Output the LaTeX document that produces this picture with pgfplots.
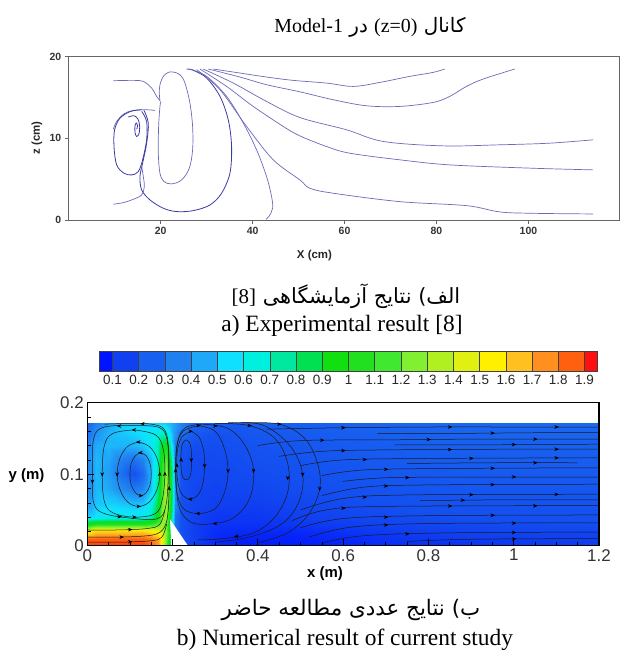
\documentclass[border=0pt]{standalone}
\usepackage{fontspec}
\usepackage{pgfplots}
\pgfplotsset{compat=1.18}
\usetikzlibrary{arrows.meta}
\TeXXeTstate=1
\setmainfont{Liberation Serif}
\newfontfamily\arialf{Liberation Sans}
\newfontfamily\farsi[Script=Arabic]{DejaVu Sans}
\definecolor{strm}{HTML}{6A6AB8}
\definecolor{strmd}{HTML}{3A3AA2}
\pgfplotsset{
  colormap={tec}{rgb255(5pt)=(0,20,255); rgb255(15pt)=(16,64,240); rgb255(25pt)=(24,96,240);
    rgb255(35pt)=(32,128,240); rgb255(45pt)=(32,168,248); rgb255(55pt)=(16,224,255);
    rgb255(65pt)=(0,240,224); rgb255(75pt)=(0,232,160); rgb255(85pt)=(0,224,80);
    rgb255(95pt)=(16,224,16); rgb255(105pt)=(32,224,32); rgb255(115pt)=(64,232,48);
    rgb255(125pt)=(128,240,48); rgb255(135pt)=(176,240,32); rgb255(145pt)=(224,240,16);
    rgb255(155pt)=(255,240,0); rgb255(165pt)=(255,192,32); rgb255(175pt)=(255,144,32);
    rgb255(185pt)=(255,96,16); rgb255(195pt)=(255,16,16)},
  ts/.style={draw=strm, line width=0.7bp, smooth, tension=0.55},
  tsd/.style={draw=strmd, line width=0.8bp, smooth, tension=0.55},
  fl/.style={draw=black!90, line width=0.5bp, smooth, tension=0.6},
}
\begin{document}
\begin{tikzpicture}
\path[use as bounding box] (0,0) rectangle (620bp,-657bp);

% ---- top: experimental streamlines
\begin{axis}[at={(68.7bp,-220bp)}, anchor=south west, scale only axis,
  width=550.3bp, height=163.3bp, xmin=0, xmax=119.7, ymin=0, ymax=20,
  axis line style={black!60, line width=0.7bp}, tick align=outside, tick pos=left,
  major tick length=4bp, every tick/.style={black!60, line width=0.7bp},
  xtick={20,40,60,80,100}, xticklabels={20,40,60,80,100},
  ytick={0,10,20}, yticklabels={0,10,20},
  ticklabel style={font=\arialf\bfseries\fontsize{10.5}{12}\selectfont, text=black!80}]
\addplot[ts] coordinates {(9.71,17.06)(14.06,17.10)(16.23,16.98)(18.04,16.16)(19.13,15.14)(19.85,14.61)};
\addplot[ts] coordinates {(19.85,14.61)(19.71,15.55)(19.85,16.57)(20.58,17.59)(21.66,18.08)(22.75,18.12)(24.2,17.80)(25.29,16.77)(26.37,14.32)(26.95,11.46)(26.95,8.59)(26.23,6.34)(24.56,4.91)(22.39,4.42)(20.72,4.71)(19.85,5.73)(19.49,8.18)(19.56,11.46)(19.85,13.91)(20.07,14.52)};
\addplot[ts] coordinates {(9.71,11.13)(10.43,12.07)(12.03,13.01)(14.06,13.42)(16.95,13.5)(18.77,13.42)};
\addplot[tsd] coordinates {(15.87,13.3)(16.95,12.07)(16.95,9.82)(16.08,7.37)(15.14,5.93)(13.69,5.52)(12.03,5.73)(10.43,6.75)(9.85,9.0)(9.99,11.05)(11.16,12.48)(13.48,13.30)(15.87,13.5)};
\addplot[tsd] coordinates {(14.78,11.13)(14.99,11.54)(14.71,11.87)(14.42,11.54)(14.42,10.72)(14.78,10.23)(15.29,10.56)(15.43,11.54)(15.07,12.36)(14.2,12.77)(12.97,12.6)};
\addplot[tsd] coordinates {(16.37,13.42)(17.32,11.87)(16.95,9.41)(16.08,6.96)(15.5,5.32)(15.87,3.69)(17.68,2.46)(20.58,1.44)(23.48,1.03)(27.1,1.15)(30.72,1.84)(33.26,3.28)(35.07,5.73)(35.43,9.0)(34.71,12.27)(32.9,15.14)(30.0,17.39)(27.1,18.33)(25.65,18.49)};
\addplot[ts] coordinates {(9.71,1.93)(11.88,2.13)(14.06,2.54)(15.87,3.07)(16.45,4.09)(16.23,5.32)(15.87,6.55)};
\addplot[ts] coordinates {(26.37,18.49)(30.0,17.59)(34.35,15.14)(37.97,11.87)(40.87,8.59)(43.04,5.32)(44.13,2.87)(44.35,1.44)(43.62,0.49)(42.9,0.09)};
\addplot[ts] coordinates {(31.45,18.49)(37.24,18.0)(43.04,17.51)(48.84,17.10)(56.08,16.77)(61.87,16.36)(67.67,16.85)(74.19,17.59)(79.27,18.08)(81.8,18.49)};
\addplot[ts] coordinates {(30.36,18.49)(37.24,17.51)(43.04,16.57)(50.29,15.7)(57.53,14.73)(64.77,13.99)(72.02,13.91)(79.27,14.40)(82.89,15.14)(86.51,16.36)(90.14,17.26)(97.02,18.49)};
\addplot[ts] coordinates {(29.27,18.49)(35.8,16.77)(43.04,14.52)(50.29,12.55)(60.43,11.05)(68.4,9.62)(81.44,9.08)(93.76,9.21)(104.63,9.41)(114.05,9.82)};
\addplot[ts] coordinates {(28.55,18.49)(34.35,16.36)(40.14,13.91)(46.66,11.46)(50.29,10.3)(56.08,9.0)(61.15,8.18)(72.02,7.37)(82.89,6.75)(101.0,6.34)(114.05,6.14)};
\addplot[ts] coordinates {(27.83,18.41)(32.9,15.96)(38.69,11.46)(44.49,7.37)(50.29,4.91)(52.45,3.89)(57.53,3.28)(72.02,2.25)(86.51,1.76)(93.76,0.99)(101.0,0.82)(114.05,0.74)};
\end{axis}

% ---- colour bar
\begin{axis}[at={(99.3bp,-371.7bp)}, anchor=south west, scale only axis,
  width=498.4bp, height=20bp, view={0}{90}, xmin=0.05, xmax=1.95, ymin=0, ymax=1,
  colormap name=tec, point meta min=0.05, point meta max=1.95,
  axis on top, axis line style={black!75, line width=0.5bp},
  xmajorgrids, grid style={black!75, line width=0.5bp},
  xtick={0.1,0.2,0.3,0.4,0.5,0.6,0.7,0.8,0.9,1,1.1,1.2,1.3,1.4,1.5,1.6,1.7,1.8,1.9},
  xticklabels={0.1,0.2,0.3,0.4,0.5,0.6,0.7,0.8,0.9,1,1.1,1.2,1.3,1.4,1.5,1.6,1.7,1.8,1.9},
  ytick=\empty, ztick=\empty, major tick length=0pt, xtick pos=left,
  xticklabel style={font=\arialf\fontsize{13.5}{15}\selectfont, text=black!85}]
\addplot3[surf, shader=flat corner, mesh/cols=21] table[row sep=\\] {
x y z\\
0.05 0 0.05\\ 0.1 0 0.15\\ 0.2 0 0.25\\ 0.3 0 0.35\\ 0.4 0 0.45\\ 0.5 0 0.55\\ 0.6 0 0.65\\ 0.7 0 0.75\\ 0.8 0 0.85\\ 0.9 0 0.95\\ 1.0 0 1.05\\ 1.1 0 1.15\\ 1.2 0 1.25\\ 1.3 0 1.35\\ 1.4 0 1.45\\ 1.5 0 1.55\\ 1.6 0 1.65\\ 1.7 0 1.75\\ 1.8 0 1.85\\ 1.9 0 1.95\\ 1.95 0 1.95\\
0.05 1 0.05\\ 0.1 1 0.15\\ 0.2 1 0.25\\ 0.3 1 0.35\\ 0.4 1 0.45\\ 0.5 1 0.55\\ 0.6 1 0.65\\ 0.7 1 0.75\\ 0.8 1 0.85\\ 0.9 1 0.95\\ 1.0 1 1.05\\ 1.1 1 1.15\\ 1.2 1 1.25\\ 1.3 1 1.35\\ 1.4 1 1.45\\ 1.5 1 1.55\\ 1.6 1 1.65\\ 1.7 1 1.75\\ 1.8 1 1.85\\ 1.9 1 1.95\\ 1.95 1 1.95\\
};
\end{axis}

% ---- bottom: velocity magnitude field
\begin{axis}[at={(87.3bp,-545.7bp)}, anchor=south west, scale only axis,
  width=511.7bp, height=143bp, view={0}{90}, xmin=0, xmax=1.2, ymin=0, ymax=0.2,
  hide axis, colormap name=tec, point meta min=0.05, point meta max=1.95]
\addplot3[surf, shader=interp, mesh/cols=21] table[row sep=\\] {
x y z\\
0 0 1.9\\ 0.02 0 1.9\\ 0.05 0 1.9\\ 0.08 0 1.9\\ 0.11 0 1.9\\ 0.13 0 1.9\\ 0.15 0 1.85\\ 0.165 0 1.75\\ 0.175 0 1.5\\ 0.185 0 1.2\\ 0.195 0 0.8\\ 0.205 0 0.3\\ 0.22 0 0.2\\ 0.25 0 0.15\\ 0.3 0 0.1\\ 0.35 0 0.08\\ 0.4 0 0.07\\ 0.5 0 0.07\\ 0.7 0 0.1\\ 0.9 0 0.12\\ 1.2 0 0.14\\
0 0.01 1.85\\ 0.02 0.01 1.85\\ 0.05 0.01 1.85\\ 0.08 0.01 1.85\\ 0.11 0.01 1.85\\ 0.13 0.01 1.85\\ 0.15 0.01 1.8\\ 0.165 0.01 1.7\\ 0.175 0.01 1.5\\ 0.185 0.01 1.25\\ 0.195 0.01 0.9\\ 0.205 0.01 0.3\\ 0.22 0.01 0.2\\ 0.25 0.01 0.15\\ 0.3 0.01 0.1\\ 0.35 0.01 0.08\\ 0.4 0.01 0.08\\ 0.5 0.01 0.08\\ 0.7 0.01 0.12\\ 0.9 0.01 0.14\\ 1.2 0.01 0.15\\
0 0.02 1.5\\ 0.02 0.02 1.6\\ 0.05 0.02 1.6\\ 0.08 0.02 1.6\\ 0.11 0.02 1.6\\ 0.13 0.02 1.6\\ 0.15 0.02 1.55\\ 0.165 0.02 1.5\\ 0.175 0.02 1.4\\ 0.185 0.02 1.25\\ 0.195 0.02 0.9\\ 0.205 0.02 0.3\\ 0.22 0.02 0.2\\ 0.25 0.02 0.15\\ 0.3 0.02 0.11\\ 0.35 0.02 0.1\\ 0.4 0.02 0.1\\ 0.5 0.02 0.1\\ 0.7 0.02 0.14\\ 0.9 0.02 0.16\\ 1.2 0.02 0.17\\
0 0.03 0.95\\ 0.02 0.03 1.05\\ 0.05 0.03 1.05\\ 0.08 0.03 1.05\\ 0.11 0.03 1.05\\ 0.13 0.03 1.05\\ 0.15 0.03 1.1\\ 0.165 0.03 1.2\\ 0.175 0.03 1.3\\ 0.185 0.03 1.25\\ 0.195 0.03 0.9\\ 0.205 0.03 0.3\\ 0.22 0.03 0.2\\ 0.25 0.03 0.15\\ 0.3 0.03 0.12\\ 0.35 0.03 0.12\\ 0.4 0.03 0.12\\ 0.5 0.03 0.13\\ 0.7 0.03 0.16\\ 0.9 0.03 0.18\\ 1.2 0.03 0.19\\
0 0.04 0.52\\ 0.02 0.04 0.56\\ 0.05 0.04 0.6\\ 0.08 0.04 0.6\\ 0.11 0.04 0.6\\ 0.13 0.04 0.62\\ 0.15 0.04 0.72\\ 0.165 0.04 0.98\\ 0.175 0.04 1.3\\ 0.185 0.04 1.3\\ 0.195 0.04 0.95\\ 0.205 0.04 0.3\\ 0.22 0.04 0.2\\ 0.25 0.04 0.16\\ 0.3 0.04 0.13\\ 0.35 0.04 0.13\\ 0.4 0.04 0.13\\ 0.5 0.04 0.15\\ 0.7 0.04 0.18\\ 0.9 0.04 0.2\\ 1.2 0.04 0.2\\
0 0.06 0.4\\ 0.02 0.06 0.5\\ 0.05 0.06 0.52\\ 0.08 0.06 0.5\\ 0.11 0.06 0.48\\ 0.13 0.06 0.5\\ 0.15 0.06 0.62\\ 0.165 0.06 0.88\\ 0.175 0.06 1.2\\ 0.185 0.06 1.35\\ 0.195 0.06 1.05\\ 0.205 0.06 0.38\\ 0.22 0.06 0.2\\ 0.25 0.06 0.17\\ 0.3 0.06 0.15\\ 0.35 0.06 0.15\\ 0.4 0.06 0.15\\ 0.5 0.06 0.17\\ 0.7 0.06 0.2\\ 0.9 0.06 0.21\\ 1.2 0.06 0.21\\
0 0.08 0.36\\ 0.02 0.08 0.48\\ 0.05 0.08 0.45\\ 0.08 0.08 0.38\\ 0.11 0.08 0.33\\ 0.13 0.08 0.37\\ 0.15 0.08 0.5\\ 0.165 0.08 0.8\\ 0.175 0.08 1.15\\ 0.185 0.08 1.35\\ 0.195 0.08 1.05\\ 0.205 0.08 0.38\\ 0.22 0.08 0.2\\ 0.25 0.08 0.17\\ 0.3 0.08 0.16\\ 0.35 0.08 0.17\\ 0.4 0.08 0.17\\ 0.5 0.08 0.19\\ 0.7 0.08 0.21\\ 0.9 0.08 0.22\\ 1.2 0.08 0.22\\
0 0.1 0.36\\ 0.02 0.1 0.48\\ 0.05 0.1 0.42\\ 0.08 0.1 0.3\\ 0.11 0.1 0.2\\ 0.13 0.1 0.28\\ 0.15 0.1 0.48\\ 0.165 0.1 0.75\\ 0.175 0.1 1.1\\ 0.185 0.1 1.3\\ 0.195 0.1 1.0\\ 0.205 0.1 0.38\\ 0.22 0.1 0.2\\ 0.25 0.1 0.18\\ 0.3 0.1 0.17\\ 0.35 0.1 0.18\\ 0.4 0.1 0.19\\ 0.5 0.1 0.2\\ 0.7 0.1 0.22\\ 0.9 0.1 0.23\\ 1.2 0.1 0.23\\
0 0.12 0.36\\ 0.02 0.12 0.48\\ 0.05 0.12 0.44\\ 0.08 0.12 0.35\\ 0.11 0.12 0.3\\ 0.13 0.12 0.36\\ 0.15 0.12 0.48\\ 0.165 0.12 0.72\\ 0.175 0.12 1.05\\ 0.185 0.12 1.2\\ 0.195 0.12 0.9\\ 0.205 0.12 0.35\\ 0.22 0.12 0.2\\ 0.25 0.12 0.18\\ 0.3 0.12 0.18\\ 0.35 0.12 0.19\\ 0.4 0.12 0.2\\ 0.5 0.12 0.21\\ 0.7 0.12 0.23\\ 0.9 0.12 0.24\\ 1.2 0.12 0.24\\
0 0.14 0.34\\ 0.02 0.14 0.46\\ 0.05 0.14 0.48\\ 0.08 0.14 0.47\\ 0.11 0.14 0.47\\ 0.13 0.14 0.5\\ 0.15 0.14 0.58\\ 0.165 0.14 0.72\\ 0.175 0.14 0.92\\ 0.185 0.14 0.98\\ 0.195 0.14 0.75\\ 0.205 0.14 0.34\\ 0.22 0.14 0.22\\ 0.25 0.14 0.19\\ 0.3 0.14 0.19\\ 0.35 0.14 0.2\\ 0.4 0.14 0.21\\ 0.5 0.14 0.22\\ 0.7 0.14 0.24\\ 0.9 0.14 0.25\\ 1.2 0.14 0.25\\
0 0.155 0.3\\ 0.02 0.155 0.4\\ 0.05 0.155 0.48\\ 0.08 0.155 0.5\\ 0.11 0.155 0.52\\ 0.13 0.155 0.55\\ 0.15 0.155 0.6\\ 0.165 0.155 0.65\\ 0.175 0.155 0.72\\ 0.185 0.155 0.72\\ 0.195 0.155 0.58\\ 0.205 0.155 0.4\\ 0.22 0.155 0.28\\ 0.25 0.155 0.22\\ 0.3 0.155 0.2\\ 0.35 0.155 0.21\\ 0.4 0.155 0.22\\ 0.5 0.155 0.23\\ 0.7 0.155 0.25\\ 0.9 0.155 0.26\\ 1.2 0.155 0.26\\
0 0.165 0.28\\ 0.02 0.165 0.38\\ 0.05 0.165 0.46\\ 0.08 0.165 0.52\\ 0.11 0.165 0.55\\ 0.13 0.165 0.55\\ 0.15 0.165 0.56\\ 0.165 0.165 0.58\\ 0.175 0.165 0.6\\ 0.185 0.165 0.58\\ 0.195 0.165 0.5\\ 0.205 0.165 0.42\\ 0.22 0.165 0.35\\ 0.25 0.165 0.25\\ 0.3 0.165 0.22\\ 0.35 0.165 0.22\\ 0.4 0.165 0.23\\ 0.5 0.165 0.24\\ 0.7 0.165 0.26\\ 0.9 0.165 0.27\\ 1.2 0.165 0.27\\
0 0.172 0.25\\ 0.02 0.172 0.34\\ 0.05 0.172 0.44\\ 0.08 0.172 0.5\\ 0.11 0.172 0.5\\ 0.13 0.172 0.5\\ 0.15 0.172 0.5\\ 0.165 0.172 0.52\\ 0.175 0.172 0.52\\ 0.185 0.172 0.5\\ 0.195 0.172 0.48\\ 0.205 0.172 0.42\\ 0.22 0.172 0.35\\ 0.25 0.172 0.27\\ 0.3 0.172 0.23\\ 0.35 0.172 0.23\\ 0.4 0.172 0.24\\ 0.5 0.172 0.25\\ 0.7 0.172 0.27\\ 0.9 0.172 0.28\\ 1.2 0.172 0.28\\
};
\end{axis}

% ---- bottom: frame, obstacle and streamlines
\begin{axis}[at={(87.3bp,-545.7bp)}, anchor=south west, scale only axis,
  width=511.7bp, height=143bp, xmin=0, xmax=1.2, ymin=0, ymax=0.2, axis on top,
  axis line style={black, line width=1.2bp}, tick align=inside, tick pos=left,
  major tick length=7bp, minor tick length=3.5bp,
  every major tick/.style={black, line width=1.1bp}, every minor tick/.style={black, line width=0.6bp},
  xtick={0,0.2,0.4,0.6,0.8,1,1.2}, xticklabels={0,0.2,0.4,0.6,0.8,1,1.2},
  ytick={0,0.1,0.2}, yticklabels={0,0.1,0.2}, minor x tick num=3, minor y tick num=4,
  ticklabel style={font=\arialf\fontsize{17}{19}\selectfont, text=black!80}]
\addplot[fill=white, draw=none] coordinates {(0.194,0.037)(0.197,0)(0.236,0)} --cycle;
% left vortex
\addplot[fl] coordinates {(.125,.130)(.113,.126)(.103,.115)(.100,.100)(.103,.085)(.113,.074)(.125,.070)(.138,.074)(.147,.085)(.150,.100)(.147,.115)(.138,.126)(.125,.130)};
\addplot[fl] coordinates {(.120,.145)(.095,.139)(.077,.123)(.070,.100)(.077,.078)(.095,.061)(.120,.055)(.145,.061)(.163,.078)(.170,.100)(.163,.123)(.145,.139)(.120,.145)};
\addplot[fl] coordinates {(.110,.162)(.060,.157)(.040,.140)(.035,.100)(.040,.062)(.060,.046)(.110,.040)(.160,.045)(.176,.065)(.182,.100)(.178,.135)(.160,.155)(.110,.162)};
\addplot[fl] coordinates {(.11,.168)(.04,.166)(.015,.15)(.012,.10)(.015,.06)(.04,.045)(.11,.038)(.165,.038)(.184,.055)(.19,.10)(.188,.145)(.17,.165)(.11,.168)};
\addplot[fl] coordinates {(0,.012)(.06,.012)(.12,.013)(.16,.016)(.18,.025)(.189,.045)(.192,.09)(.19,.14)(.18,.163)(.15,.170)(.10,.171)(.04,.170)};
\addplot[fl] coordinates {(0,.005)(.08,.005)(.15,.007)(.175,.012)(.186,.03)};
\addplot[fl] coordinates {(0,.022)(.07,.022)(.14,.024)(.17,.03)(.182,.05)};
% right vortex
\addplot[fl] coordinates {(.232,.148)(.240,.144)(.244,.132)(.244,.108)(.240,.096)(.232,.092)(.224,.096)(.220,.108)(.220,.132)(.224,.144)(.232,.148)};
\addplot[fl] coordinates {(.242,.160)(.262,.152)(.273,.132)(.275,.1125)(.272,.09)(.262,.073)(.242,.065)(.222,.072)(.212,.09)(.210,.1125)(.212,.135)(.222,.152)(.242,.160)};
\addplot[fl] coordinates {(.26,.168)(.30,.16)(.322,.135)(.33,.105)(.322,.075)(.30,.052)(.26,.045)(.225,.052)(.21,.075)(.207,.105)(.21,.14)(.225,.16)(.26,.168)};
\addplot[fl] coordinates {(.27,.170)(.33,.164)(.37,.14)(.39,.105)(.38,.065)(.34,.038)(.28,.03)(.24,.034)(.215,.055)(.208,.1)(.212,.145)(.23,.165)(.27,.17)};
\addplot[fl] coordinates {(.30,.171)(.38,.168)(.44,.15)(.47,.115)(.47,.075)(.44,.04)(.39,.018)(.32,.01)(.26,.008)};
\addplot[fl] coordinates {(.33,.172)(.41,.169)(.475,.14)(.505,.10)(.495,.06)(.455,.03)(.38,.012)(.30,.005)};
\addplot[fl] coordinates {(.36,.172)(.45,.17)(.51,.15)(.54,.115)(.545,.08)(.52,.045)(.47,.018)(.40,.004)};
% outflow
\addplot[fl] coordinates {(0.42,0.163)(0.6,0.165)(0.8,0.166)(1.0,0.166)(1.2,0.166)};
\addplot[fl] coordinates {(0.68,0.157)(0.85,0.157)(1.05,0.158)(1.2,0.158)};
\addplot[fl] coordinates {(0.40,0.14)(0.5,0.147)(0.7,0.148)(0.9,0.149)(1.2,0.149)};
\addplot[fl] coordinates {(0.72,0.141)(0.9,0.141)(1.2,0.142)};
\addplot[fl] coordinates {(0.45,0.125)(0.55,0.132)(0.7,0.134)(1.0,0.135)(1.2,0.135)};
\addplot[fl] coordinates {(0.50,0.112)(0.6,0.12)(0.8,0.122)(1.2,0.123)};
\addplot[fl] coordinates {(0.75,0.115)(0.95,0.116)(1.15,0.116)};
\addplot[fl] coordinates {(0.55,0.098)(0.65,0.106)(0.85,0.108)(1.2,0.109)};
\addplot[fl] coordinates {(0.6,0.09)(0.7,0.095)(0.9,0.096)(1.2,0.096)};
\addplot[fl] coordinates {(0.55,0.07)(0.65,0.082)(0.8,0.085)(1.2,0.086)};
\addplot[fl] coordinates {(0.5,0.05)(0.6,0.066)(0.75,0.071)(1.2,0.072)};
\addplot[fl] coordinates {(0.48,0.035)(0.56,0.05)(0.7,0.055)(1.2,0.056)};
\addplot[fl] coordinates {(0.78,0.063)(0.95,0.064)(1.2,0.064)};
\addplot[fl] coordinates {(0.5,0.025)(0.6,0.038)(0.8,0.042)(1.2,0.043)};
\addplot[fl] coordinates {(0.52,0.012)(0.62,0.026)(0.8,0.031)(1.2,0.032)};
\addplot[fl] coordinates {(0.55,0.004)(0.65,0.014)(0.85,0.018)(1.2,0.019)};
\addplot[fl] coordinates {(0.75,0.006)(0.9,0.009)(1.2,0.01)};
% direction arrows along the streamlines
\addplot[quiver={u=\thisrow{u}, v=\thisrow{v}}, draw=black, line width=0.5bp,
  -{Stealth[length=4.5bp,width=3.6bp]}] table {
x y u v
0.125 0.130 -0.006 0
0.125 0.070 0.006 0
0.12 0.145 -0.006 0
0.070 0.100 0 -0.0036
0.12 0.055 0.006 0
0.170 0.100 0 0.0036
0.11 0.162 -0.006 0
0.035 0.100 0 -0.0036
0.11 0.040 0.006 0
0.182 0.100 0 0.0036
0.075 0.1675 -0.006 0
0.012 0.090 0 -0.0036
0.075 0.0405 0.006 0
0.08 0.012 0.006 0
0.192 0.080 0 0.0036
0.13 0.1705 -0.006 0
0.10 0.0055 0.006 0
0.10 0.0225 0.006 0
0.244 0.120 0 -0.0036
0.220 0.120 0 0.0036
0.242 0.160 0.006 0
0.275 0.112 0 -0.0036
0.242 0.065 -0.006 0
0.210 0.112 0 0.0036
0.26 0.168 0.006 0
0.33 0.105 0 -0.0036
0.26 0.045 -0.006 0
0.207 0.105 0 0.0036
0.39 0.105 0 -0.0036
0.30 0.031 -0.006 0
0.30 0.1675 0.006 0
0.47 0.095 0 -0.0036
0.38 0.168 0.006 0
0.35 0.013 -0.006 0
0.505 0.100 0 -0.0036
0.545 0.080 0 -0.0036
0.45 0.170 0.006 0
0.6 0.165 0.006 0
0.85 0.166 0.006 0
1.1 0.166 0.006 0
0.95 0.1575 0.006 0
0.55 0.1475 0.006 0
0.8 0.1485 0.006 0
1.05 0.149 0.006 0
1.0 0.1415 0.006 0
0.6 0.133 0.006 0
0.85 0.1345 0.006 0
1.1 0.135 0.006 0
0.65 0.1205 0.006 0
0.9 0.1222 0.006 0
1.1 0.1228 0.006 0
1.05 0.116 0.006 0
0.7 0.1068 0.006 0
0.95 0.1083 0.006 0
0.75 0.0953 0.006 0
1.0 0.0962 0.006 0
0.7 0.0835 0.006 0
0.95 0.0855 0.006 0
0.65 0.068 0.006 0
0.9 0.0713 0.006 0
1.1 0.0718 0.006 0
0.88 0.0637 0.006 0
0.6 0.0525 0.006 0
0.85 0.0555 0.006 0
1.05 0.0558 0.006 0
0.7 0.040 0.006 0
0.95 0.0425 0.006 0
0.7 0.029 0.006 0
1.0 0.0315 0.006 0
0.75 0.0165 0.006 0
1.0 0.0185 0.006 0
1.0 0.0095 0.006 0
};
\end{axis}

% ---- texts
\node[font=\farsi\fontsize{20}{23}\selectfont] at (370bp,-27bp) {\beginR کانال \beginL{\rmfamily(z=0)}\endL{} در \beginL{\rmfamily Model-1}\endL\endR};
\node[font=\arialf\bfseries\fontsize{11.5}{13}\selectfont, text=black!85] at (314.5bp,-256bp) {X (cm)};
\node[rotate=90, font=\arialf\bfseries\fontsize{11.5}{13}\selectfont, text=black!85] at (37bp,-138bp) {z (cm)};
\node[font=\farsi\fontsize{21}{24}\selectfont] at (346bp,-296bp) {\beginR الف) نتایج آزمایشگاهی \beginL{\rmfamily [8]}\endL\endR};
\node[font=\rmfamily\fontsize{23.5}{27}\selectfont] at (342bp,-326bp) {a) Experimental result [8]};
\node[font=\arialf\bfseries\fontsize{15}{17}\selectfont] at (325bp,-574bp) {x (m)};
\node[font=\arialf\bfseries\fontsize{15}{17}\selectfont] at (26.5bp,-475.7bp) {y (m)};
\node[font=\farsi\fontsize{21.5}{24}\selectfont] at (351bp,-610bp) {\beginR ب) نتایج عددی مطالعه حاضر\endR};
\node[font=\rmfamily\fontsize{23.5}{27}\selectfont] at (345bp,-640bp) {b) Numerical result of current study};
\end{tikzpicture}
\end{document}
